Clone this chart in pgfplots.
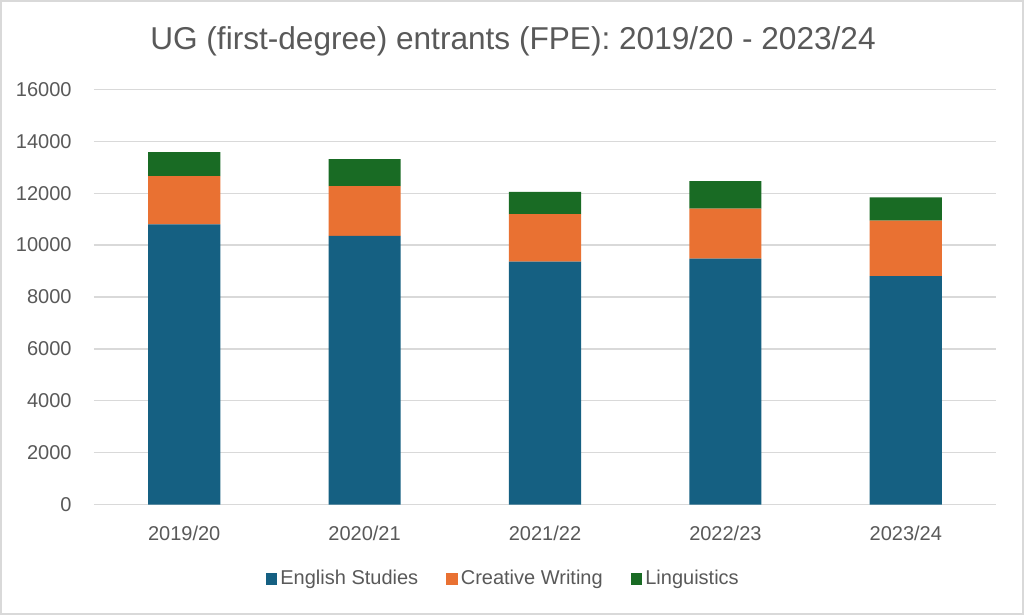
\documentclass[border=0pt]{standalone}
\usepackage{pgfplots}
\pgfplotsset{compat=1.18}
\usepackage{fontspec}
\setmainfont{Liberation Sans}
\definecolor{cblue}{HTML}{156082}
\definecolor{corange}{HTML}{E97132}
\definecolor{cgreen}{HTML}{196B24}
\definecolor{ctext}{HTML}{595959}
\definecolor{cgrid}{HTML}{D9D9D9}
\begin{document}
\begin{tikzpicture}
\useasboundingbox (0,0) rectangle (512pt,307.5pt);
\fill[white] (0,0) rectangle (512pt,307.5pt);
\draw[cgrid, line width=1pt] (0.5pt,0.5pt) rectangle (511.5pt,307pt);
\node[anchor=base, text=ctext, font=\fontsize{15.8}{18}\selectfont] at (256.5pt,282.5pt) {UG (first-degree) entrants (FPE): 2019/20 - 2023/24};
\begin{axis}[
  at={(47pt,55.15pt)}, anchor=south west,
  scale only axis, width=451pt, height=207.7pt,
  xmin=-0.5, xmax=4.5, ymin=0, ymax=16000,
  ybar stacked, bar width=0.4,
  xtick=data,
  xticklabels={2019/20,2020/21,2021/22,2022/23,2023/24},
  ytick={0,2000,...,16000},
  scaled y ticks=false,
  yticklabel={\pgfmathprintnumber[fixed,1000 sep={}]{\tick}},
  /pgf/number format/assume math mode=true,
  axis line style={draw=none},
  major tick length=0pt,
  ymajorgrids, grid style={cgrid, line width=0.6pt},
  tick label style={text=ctext, font=\fontsize{10}{12}\selectfont},
  yticklabel style={xshift=-7.7pt},
  xticklabel style={yshift=-7pt},
  legend columns=-1,
  legend style={at={(0.4545,-0.179)}, anchor=center, draw=none, fill=none,
    font=\fontsize{10}{12}\selectfont, text=ctext,
    nodes={inner sep=1.6pt},
    /tikz/every even column/.append style={column sep=12.5pt}},
  legend image code/.code={\fill[#1] (0pt,-2.8pt) rectangle (5.6pt,2.8pt);},
]
\addplot[fill=cblue, draw=none] coordinates {(0,10800) (1,10350) (2,9360) (3,9480) (4,8800)};
\addplot[fill=corange, draw=none] coordinates {(0,1855) (1,1920) (2,1830) (3,1920) (4,2140)};
\addplot[fill=cgreen, draw=none] coordinates {(0,925) (1,1040) (2,860) (3,1060) (4,895)};
\legend{English Studies, Creative Writing, Linguistics}
\end{axis}
\end{tikzpicture}
\end{document}
